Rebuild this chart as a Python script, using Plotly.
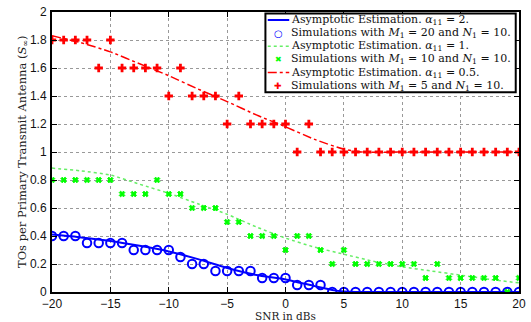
import plotly.graph_objects as go

# ---- data ----
snr_sim = list(range(-20, 21))
sim_m20 = [0.4, 0.4, 0.4, 0.35, 0.35, 0.35, 0.35, 0.3, 0.3, 0.3, 0.3, 0.25, 0.2, 0.2, 0.15, 0.15, 0.15, 0.15, 0.1, 0.1,
           0.1, 0.05, 0.05, 0.05, 0, 0, 0, 0, 0, 0, 0, 0, 0, 0, 0, 0, 0, 0, 0, 0, 0]
sim_m10 = [0.8, 0.8, 0.8, 0.8, 0.8, 0.8, 0.7, 0.7, 0.7, 0.8, 0.7, 0.7, 0.6, 0.6, 0.6, 0.5, 0.5, 0.4, 0.4, 0.4,
           0.3, 0.4, 0.4, 0.3, 0.2, 0.3, 0.2, 0.2, 0.2, 0.2, 0.2, 0.2, 0.1, 0.2, 0.1, 0.1, 0.1, 0.1, 0.1, 0.0, 0.1]
sim_m5 = [1.8, 1.8, 1.8, 1.8, 1.6, 1.8, 1.6, 1.6, 1.6, 1.6, 1.4, 1.6, 1.4, 1.4, 1.4, 1.2, 1.4, 1.2, 1.2, 1.2,
          1.2, 1.0, 1.2, 1.0, 1.0, 1.0, 1.0, 1.0, 1.0, 1.0, 1.0, 1.0, 1.0, 1.0, 1.0, 1.0, 1.0, 1.0, 1.0, 1.0, 1.0]

snr_a2 = [-20, -17.5, -15, -12.5, -10, -7.5, -5, -2.5, 0, 2.5, 4, 5, 6, 10, 15, 20]
asym_a2 = [0.41, 0.39, 0.365, 0.33, 0.29, 0.235, 0.172, 0.122, 0.09, 0.042, 0.015, 0.004, 0.0, 0.0, 0.0, 0.0]
snr_a1 = [-20, -17.5, -15, -12.5, -10, -7.5, -5, -2.5, 0, 2.5, 5, 7.5, 10, 12.5, 15, 17.5, 20]
asym_a1 = [0.885, 0.865, 0.835, 0.77, 0.705, 0.63, 0.555, 0.465, 0.385, 0.32, 0.27, 0.22, 0.18, 0.15, 0.12, 0.09, 0.065]
snr_a05 = [-20, -17.5, -15, -12.5, -10, -7.5, -5, -2.5, 0, 2.5, 5, 6.5, 10, 15, 20]
asym_a05 = [1.83, 1.78, 1.715, 1.63, 1.545, 1.45, 1.36, 1.265, 1.18, 1.09, 1.02, 1.0, 1.0, 1.0, 1.0]

x_ticks = [-20, -15, -10, -5, 0, 5, 10, 15, 20]
y_ticks = [0, 0.2, 0.4, 0.6, 0.8, 1, 1.2, 1.4, 1.6, 1.8, 2]

x_title = "SNR in dBs"
y_title = "TOs per Primary Transmit Antenna (<i>S</i><sub>∞</sub>)"
legend_labels = [
    "Asymptotic Estimation. <i>α</i><sub>11</sub> = 2.",
    "Simulations with <i>M</i><sub>1</sub> = 20 and <i>N</i><sub>1</sub> = 10.",
    "Asymptotic Estimation. <i>α</i><sub>11</sub> = 1.",
    "Simulations with <i>M</i><sub>1</sub> = 10 and <i>N</i><sub>1</sub> = 10.",
    "Asymptotic Estimation. <i>α</i><sub>11</sub> = 0.5.",
    "Simulations with <i>M</i><sub>1</sub> = 5 and <i>N</i><sub>1</sub> = 10.",
]

BLUE, GREEN, RED = "#0000ff", "#00ff00", "#ff0000"
LGREEN = "#66ee66"
SERIF = "DejaVu Serif, Liberation Serif, serif"

fig = go.Figure()
fig.add_trace(go.Scatter(x=snr_a2, y=asym_a2, mode="lines", line=dict(color=BLUE, width=2, shape="spline", smoothing=0.6)))
fig.add_trace(go.Scatter(x=snr_sim, y=sim_m20, mode="markers",
                         marker=dict(symbol="circle-open", size=8.5, color=BLUE, line=dict(width=2, color=BLUE))))
fig.add_trace(go.Scatter(x=snr_a1, y=asym_a1, mode="lines", line=dict(color=LGREEN, width=1.5, dash="dot", shape="spline", smoothing=0.6)))
fig.add_trace(go.Scatter(x=snr_sim, y=sim_m10, mode="markers",
                         marker=dict(symbol="x", size=5, color=GREEN, line=dict(width=1, color=GREEN))))
fig.add_trace(go.Scatter(x=snr_a05, y=asym_a05, mode="lines", line=dict(color=RED, width=1.5, dash="dashdot", shape="spline", smoothing=0.6)))
fig.add_trace(go.Scatter(x=snr_sim, y=sim_m5, mode="markers",
                         marker=dict(symbol="cross", size=7, color=RED, line=dict(width=0))))

# legend box (drawn manually to keep compact rows like the reference)
bx0, bx1, by0, by1 = 0.457, 0.993, 0.713, 0.995
fig.add_shape(type="rect", xref="paper", yref="paper", x0=bx0, x1=bx1, y0=by0, y1=by1,
              fillcolor="white", line=dict(color="black", width=2), layer="above")
row_h = (by1 - by0) / 6.0
sym_x0, sym_x1 = 0.462, 0.508
text_x = 0.51
line_styles = {0: (BLUE, "solid", 2), 2: (LGREEN, "dot", 1.5), 4: (RED, "dashdot", 1.5)}
marker_glyphs = {1: ("<b>○</b>", BLUE, 10), 3: ("✖", GREEN, 8), 5: ("✚", RED, 9)}
for i, lab in enumerate(legend_labels):
    yc = by1 - row_h * (i + 0.5)
    if i in line_styles:
        c, d, w = line_styles[i]
        fig.add_shape(type="line", xref="paper", yref="paper", x0=sym_x0, x1=sym_x1, y0=yc, y1=yc,
                      line=dict(color=c, dash=d, width=w), layer="above")
    else:
        g, c, s = marker_glyphs[i]
        fig.add_annotation(xref="paper", yref="paper", x=(sym_x0 + sym_x1) / 2, y=yc, text=g,
                           showarrow=False, xanchor="center", yanchor="middle",
                           font=dict(family="DejaVu Sans", size=s, color=c))
    fig.add_annotation(xref="paper", yref="paper", x=text_x, y=yc, text=lab, showarrow=False,
                       xanchor="left", yanchor="middle", borderpad=0,
                       font=dict(family=SERIF, size=11, color="#111"))

# axis titles
fig.add_annotation(xref="paper", yref="paper", x=0.5, y=0, yshift=-17, xanchor="center", yanchor="top",
                   text=x_title, showarrow=False, borderpad=0,
                   font=dict(family=SERIF, size=10.5, color="#222"))
fig.add_annotation(xref="paper", yref="paper", x=0, y=0.5, xshift=-30, xanchor="center", yanchor="middle",
                   text=y_title, textangle=-90, showarrow=False, borderpad=0,
                   font=dict(family=SERIF, size=11.5, color="#222"))

axis_common = dict(showline=True, linecolor="black", linewidth=2, mirror="ticks", ticks="inside",
                   ticklen=5, tickcolor="black", showgrid=True, gridcolor="#999999", griddash="dot",
                   gridwidth=1, zeroline=False, automargin=False,
                   tickfont=dict(family="Liberation Sans, Arial, sans-serif", size=12, color="#111"))

fig.update_layout(
    width=531, height=322, showlegend=False,
    margin=dict(l=52, r=12, t=12, b=30),
    plot_bgcolor="white", paper_bgcolor="white",
    xaxis=dict(range=[-20, 20], tickvals=x_ticks, ticktext=[str(v).replace("-", "\u2212") for v in x_ticks],
               ticklabelstandoff=0, **axis_common),
    yaxis=dict(range=[0, 2], tickvals=y_ticks, ticktext=[("%g" % v) for v in y_ticks],
               ticklabelstandoff=1, **axis_common),
)

fig.write_html("out.html")
